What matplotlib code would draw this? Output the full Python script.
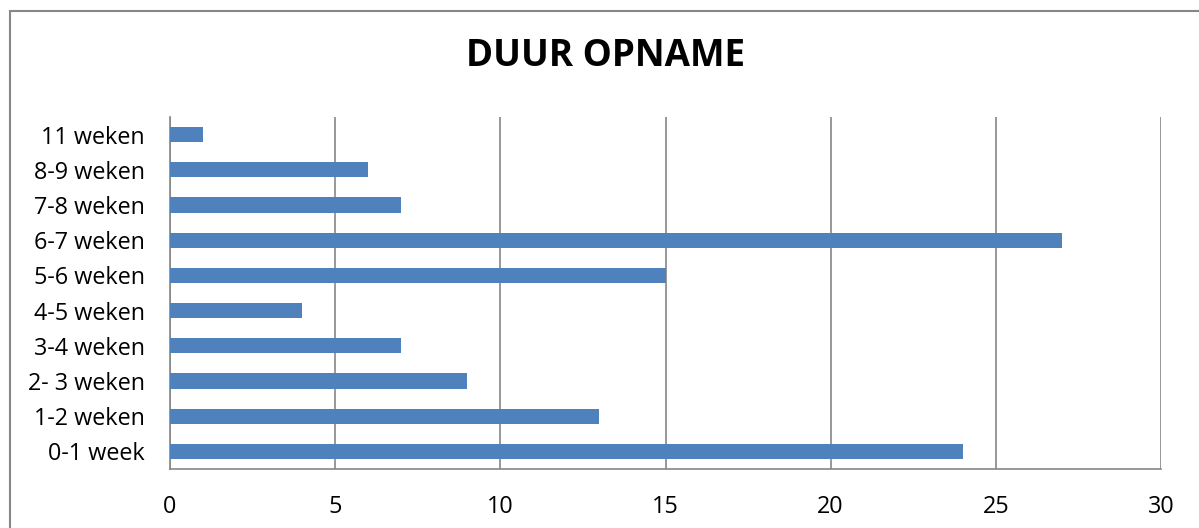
import matplotlib
matplotlib.use("Agg")
import matplotlib.pyplot as plt
from matplotlib.patches import Rectangle

# data
categories = ['0-1 week', '1-2 weken', '2- 3 weken', '3-4 weken', '4-5 weken',
              '5-6 weken', '6-7 weken', '7-8 weken', '8-9 weken', '11 weken']
values = [24, 13, 9, 7, 4, 15, 27, 7, 6, 1]
xticks = [0, 5, 10, 15, 20, 25, 30]

plt.rcParams['font.family'] = ['Open Sans', 'DejaVu Sans']

W, H = 1199, 528
fig = plt.figure(figsize=(W / 100, H / 100), dpi=100)

# outer chart frame (runs off right and bottom edge)
fig.patches.append(Rectangle((9.5 / W, -0.05), 1.2, (H - 10.5) / H + 0.05,
                             transform=fig.transFigure, fill=False,
                             edgecolor='#878787', linewidth=1.5))

ax = fig.add_axes([170 / W, (H - 469) / H, (1161 - 170) / W, (469 - 117) / H])
ax.barh(range(len(categories)), values, height=0.43, color='#4f81bd', zorder=3)

ax.set_xlim(0, 30)
ax.set_ylim(-0.5, len(categories) - 0.5)
ax.set_xticks(xticks)
ax.set_yticks(range(len(categories)))
ax.set_yticklabels(categories)
ax.tick_params(axis='both', length=0, labelsize=16.8, colors='black')
ax.tick_params(axis='x', pad=19)
ax.tick_params(axis='y', pad=18)

ax.grid(axis='x', color='#868686', linewidth=1.2, zorder=0)
for s in ['top', 'right']:
    ax.spines[s].set_visible(False)
for s in ['left', 'bottom']:
    ax.spines[s].set_color('#868686')
    ax.spines[s].set_linewidth(1.2)

fig.text(606 / W, 1 - 56 / H, 'DUUR OPNAME', ha='center', va='center',
         fontsize=26.5, fontweight='bold')

fig.savefig('out.png', dpi=100)
